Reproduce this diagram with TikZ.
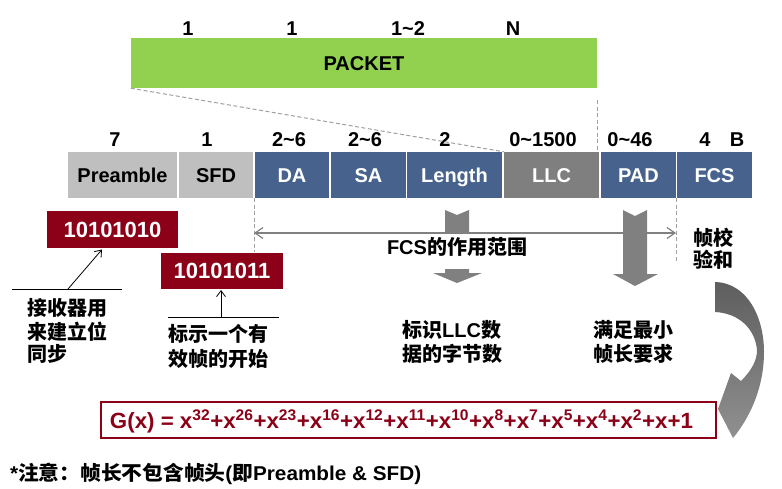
\documentclass[tikz,border=0pt]{standalone}
\usepackage{graphicx}
\usepackage{fontspec}
\setmainfont{Liberation Sans}
\newfontfamily\zhfont{Noto Sans CJK SC}
\usetikzlibrary{arrows.meta}
\definecolor{pgreen}{HTML}{92D050}
\definecolor{fblue}{HTML}{47638D}
\definecolor{lgray}{HTML}{BFBFBF}
\definecolor{dgray}{HTML}{7F7F7F}
\definecolor{dred}{HTML}{8C0018}
\definecolor{agray}{HTML}{808080}
\definecolor{dashgray}{HTML}{A0A0A0}
\definecolor{cgtop}{HTML}{5E5E5E}
\definecolor{cgbot}{HTML}{909090}
\newcommand{\zh}[1]{{\zhfont #1}}
\newcommand{\tl}{\textasciitilde}
\begin{document}
\begin{tikzpicture}[x=1pt,y=-1pt,
  num/.style={font=\fontsize{20}{20}\selectfont\bfseries, inner sep=0pt, anchor=base},
  field/.style={font=\fontsize{20}{20}\selectfont\bfseries, inner sep=0pt,
    text height=14.3pt, text depth=0pt, minimum height=46pt},
  redbox/.style={fill=dred, text=white, font=\fontsize{22}{22}\selectfont\bfseries,
    inner sep=0pt, text height=15.8pt, text depth=0pt},
  zhtext/.style={font=\fontsize{20}{20}\selectfont\bfseries\zhfont, inner sep=0pt, anchor=base west},
  dashline/.style={draw=dashgray, line width=1pt, dash pattern=on 4pt off 2.5pt},
  annline/.style={draw=black, line width=0.8pt},
  annarrow/.style={draw=black, line width=0.8pt, -{Straight Barb[length=6pt,width=9pt]}},
  rangeline/.style={draw=agray, line width=1.2pt},
  blockarrow/.style={fill=agray}
]
\useasboundingbox (0,0) rectangle (782,488);

% top numbers
\node[num] (t1) at (188,35) {1};
\node[num] (t2) at (292,35) {1};
\node[num] (t3) at (408,35) {1\tl2};
\node[num] (t4) at (513,35) {N};

% packet
\node[field, fill=pgreen, minimum width=466pt, minimum height=50pt] (packet) at (364,63) {PACKET};

% frame labels
\node[num] (l1) at (115,146) {7};
\node[num] (l2) at (207,146) {1};
\node[num] (l3) at (289,146) {2\tl6};
\node[num] (l4) at (365,146) {2\tl6};
\node[num] (l5) at (445,146) {2};
\node[num] (l6) at (543,146) {0\tl1500};
\node[num] (l7) at (630,146) {0\tl46};
\node[num] (l8) at (705,146) {4};
\node[num] (l9) at (737,146) {B};

% frame fields
\node[field, fill=lgray, minimum width=109pt] (pre) at (122.5,175) {Preamble};
\node[field, fill=lgray, minimum width=74pt] (sfd) at (216,175) {SFD};
\node[field, fill=fblue, text=white, minimum width=74pt] (da) at (292,175) {DA};
\node[field, fill=fblue, text=white, minimum width=75pt] (sa) at (368.5,175) {SA};
\node[field, fill=fblue, text=white, minimum width=95pt] (len) at (454.5,175) {Length};
\node[field, fill=dgray, text=white, minimum width=95pt] (llc) at (551.5,175) {LLC};
\node[field, fill=fblue, text=white, minimum width=75pt] (pad) at (638.5,175) {PAD};
\node[field, fill=fblue, text=white, minimum width=75pt] (fcs) at (714.5,175) {FCS};

% dashed zoom lines
\draw[dashline] (packet.south west) -- (llc.north west);
\coordinate (v1) at (597,100);
\coordinate (v2) at (597,150);
\draw[dashline] (v1) -- (v2);

% dashed range markers
\coordinate (dlt) at (254,198);
\coordinate (dlb) at (254,252);
\coordinate (drt) at (676,198);
\coordinate (drb) at (676,262);
\draw[dashline] (dlt) -- (dlb);
\draw[dashline] (drt) -- (drb);

% block arrows
\fill[blockarrow] (445,210) -- (457,215) -- (469,210) -- (469,233) -- (445,233) -- cycle;
\fill[blockarrow] (445,269) -- (469,269) -- (469,273) -- (482,273) -- (457,283) -- (433,273) -- (445,273) -- cycle;
\fill[blockarrow] (623,210) -- (635,216) -- (647,210) -- (647,274) -- (658,274) -- (635,286) -- (613,274) -- (623,274) -- cycle;

% FCS range line
\coordinate (rl) at (254,233);
\coordinate (rr) at (676,233);
\draw[rangeline, {Straight Barb[length=8pt,width=11pt]}-{Straight Barb[length=8pt,width=11pt]}] (rl) -- (rr);
\node[font=\fontsize{20}{20}\selectfont\bfseries, inner sep=0pt, anchor=base] (range) at (457,254) {FCS\zh{的作用范围}};

% red boxes
\node[redbox, minimum width=131pt, minimum height=37pt] (rb1) at (112.5,229.5) {10101010};
\node[redbox, minimum width=122pt, minimum height=36pt] (rb2) at (222,271) {10101011};

% annotation 1
\coordinate (u1l) at (12,289);
\coordinate (u1r) at (122,289);
\coordinate (u1a) at (68,289);
\coordinate (u1b) at (102,249.5);
\draw[annline] (u1l) -- (u1r);
\draw[annarrow] (u1a) -- (u1b);
\node[zhtext] (n1a) at (27,315) {接收器用};
\node[zhtext] (n1b) at (27,339) {来建立位};
\node[zhtext] (n1c) at (27,361) {同步};

% annotation 2
\coordinate (u2l) at (168,317);
\coordinate (u2r) at (279,317);
\coordinate (u2a) at (221,317);
\coordinate (u2b) at (221,290);
\draw[annline] (u2l) -- (u2r);
\draw[annarrow] (u2a) -- (u2b);
\node[zhtext] (n2a) at (168,341.5) {标示一个有};
\node[zhtext] (n2b) at (168,366) {效帧的开始};

% length / pad / fcs notes
\node[zhtext] (n3a) at (402,337.5) {标识{\fontspec{Liberation Sans}LLC}数};
\node[zhtext] (n3b) at (402,361.5) {据的字节数};
\node[zhtext] (n4a) at (593,337.5) {满足最小};
\node[zhtext] (n4b) at (593,361.5) {帧长要求};
\node[zhtext] (n5a) at (693,245.5) {帧校};
\node[zhtext] (n5b) at (693,267.5) {验和};

% curved arrow
\path[top color=cgtop, bottom color=cgbot]
  (715,282) .. controls (748,283) and (764,318) .. (764,352)
  .. controls (764,390) and (748,420) .. (733,438)
  -- (718,409) -- (731,373) -- (741,381)
  .. controls (752,370) and (757,360) .. (757,350)
  .. controls (755,328) and (738,313) .. (715,312) -- cycle;

% formula
\node[draw=dred, line width=1.6pt, fill=white, minimum width=615pt, minimum height=36pt, inner sep=0pt] (gbox) at (408.5,420) {};
\node[inner sep=0pt, anchor=base, text=dred] (gtext) at (401.5,428)
  {\resizebox{583pt}{\height}{\fontsize{22}{22}\selectfont\bfseries G(x) = x\textsuperscript{32}+x\textsuperscript{26}+x\textsuperscript{23}+x\textsuperscript{16}+x\textsuperscript{12}+x\textsuperscript{11}+x\textsuperscript{10}+x\textsuperscript{8}+x\textsuperscript{7}+x\textsuperscript{5}+x\textsuperscript{4}+x\textsuperscript{2}+x+1}};

% note
\node[inner sep=0pt, anchor=base west] (note) at (10,480)
  {\resizebox{411pt}{\height}{\fontsize{20}{20}\selectfont\bfseries *\zh{注意：帧长不包含帧头}(\zh{即}Preamble \& SFD)}};
\end{tikzpicture}
\end{document}
